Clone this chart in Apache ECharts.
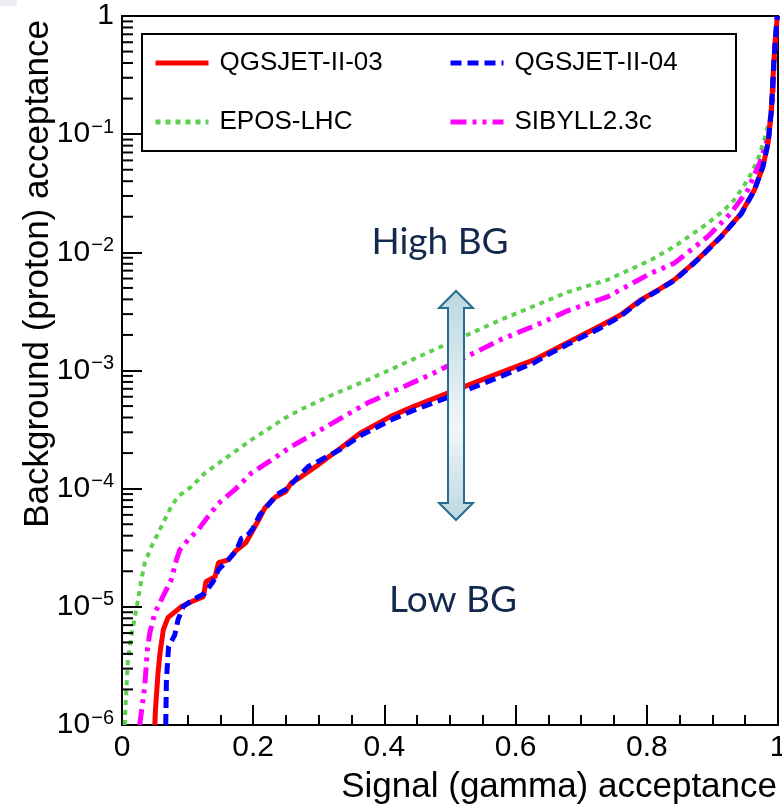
<!DOCTYPE html>
<html><head><meta charset="utf-8">
<script src="https://cdn.jsdelivr.net/npm/echarts@6/dist/echarts.min.js"></script>
<style>html,body{margin:0;padding:0;background:#fff;}#c{width:782px;height:805px;}</style>
</head><body><div id="c"></div>
<script>
// ---- data (signal acceptance, background acceptance) ----
const seriesNames = ['QGSJET-II-03', 'QGSJET-II-04', 'EPOS-LHC', 'SIBYLL2.3c'];
const qgsjet03 = [[0.050,1e-6],[0.051,1.35e-6],[0.055,2.8e-6],[0.058,4.1e-6],[0.063,6.4e-6],[0.070,8.1e-6],[0.090,1.0e-5],[0.105,1.1e-5],[0.124,1.22e-5],[0.128,1.63e-5],[0.142,1.8e-5],[0.147,2.36e-5],[0.162,2.5e-5],[0.174,3.0e-5],[0.189,3.5e-5],[0.197,4.2e-5],[0.208,5.4e-5],[0.218,6.9e-5],[0.234,8.5e-5],[0.249,9.4e-5],[0.258,1.12e-4],[0.273,1.26e-4],[0.299,1.59e-4],[0.333,2.2e-4],[0.363,2.95e-4],[0.409,4.07e-4],[0.444,4.95e-4],[0.516,7.1e-4],[0.577,9.6e-4],[0.628,1.23e-3],[0.653,1.45e-3],[0.679,1.72e-3],[0.730,2.4e-3],[0.760,2.95e-3],[0.791,3.96e-3],[0.820,4.9e-3],[0.842,5.85e-3],[0.862,7.3e-3],[0.882,9.2e-3],[0.913,1.36e-2],[0.944,2.14e-2],[0.964,3.37e-2],[0.977,5.3e-2],[0.985,8.5e-2],[0.990,0.16],[0.993,0.35],[0.996,0.65],[0.999,1]];
const qgsjet04 = [[0.0667,1e-6],[0.0677,2.4e-6],[0.071,4.6e-6],[0.0805,5.8e-6],[0.0855,7.8e-6],[0.093,1.0e-5],[0.108,1.15e-5],[0.126,1.3e-5],[0.139,1.64e-5],[0.147,2.06e-5],[0.162,2.5e-5],[0.1745,3.0e-5],[0.182,3.8e-5],[0.19,3.93e-5],[0.2,4.63e-5],[0.21,6.0e-5],[0.223,7.3e-5],[0.236,8.9e-5],[0.253,1.01e-4],[0.269,1.27e-4],[0.284,1.54e-4],[0.299,1.7e-4],[0.333,2.15e-4],[0.363,2.8e-4],[0.409,3.8e-4],[0.444,4.6e-4],[0.516,6.5e-4],[0.577,8.9e-4],[0.628,1.16e-3],[0.653,1.4e-3],[0.679,1.66e-3],[0.730,2.3e-3],[0.760,2.88e-3],[0.791,3.9e-3],[0.820,4.85e-3],[0.842,5.8e-3],[0.862,7.2e-3],[0.882,9.1e-3],[0.913,1.35e-2],[0.944,2.12e-2],[0.964,3.35e-2],[0.977,5.3e-2],[0.985,8.5e-2],[0.990,0.16],[0.993,0.35],[0.996,0.65],[0.999,1]];
const eposLhc = [[0.004,1e-6],[0.0066,2e-6],[0.009,3.56e-6],[0.014,5.6e-6],[0.019,7.8e-6],[0.0244,1.15e-5],[0.0295,1.69e-5],[0.0346,2.34e-5],[0.0448,3.24e-5],[0.055,4.2e-5],[0.065,5.45e-5],[0.0753,7.1e-5],[0.0855,8.6e-5],[0.106,1.04e-4],[0.126,1.35e-4],[0.147,1.64e-4],[0.172,2.06e-4],[0.197,2.59e-4],[0.223,3.2e-4],[0.248,3.95e-4],[0.275,4.75e-4],[0.320,6.2e-4],[0.374,8.3e-4],[0.475,1.49e-3],[0.577,2.68e-3],[0.638,3.7e-3],[0.679,4.6e-3],[0.740,5.85e-3],[0.806,8.6e-3],[0.842,1.12e-2],[0.893,1.76e-2],[0.918,2.28e-2],[0.933,2.77e-2],[0.954,4.1e-2],[0.969,6.05e-2],[0.979,8.9e-2],[0.988,0.14],[0.993,0.4],[0.997,0.8],[0.999,1]];
const sibyll23c = [[0.027,1e-6],[0.0346,2.1e-6],[0.0386,4.3e-6],[0.0423,6.0e-6],[0.05,8.85e-6],[0.06,1.15e-5],[0.0702,1.49e-5],[0.075,1.69e-5],[0.083,2.5e-5],[0.088,3.03e-5],[0.1008,3.69e-5],[0.116,4.48e-5],[0.131,5.8e-5],[0.147,7.5e-5],[0.172,9.8e-5],[0.197,1.35e-4],[0.228,1.75e-4],[0.258,2.27e-4],[0.294,2.95e-4],[0.374,5.3e-4],[0.475,9.5e-4],[0.577,1.82e-3],[0.638,2.51e-3],[0.679,3.2e-3],[0.740,4.2e-3],[0.806,6.65e-3],[0.842,8.1e-3],[0.893,1.36e-2],[0.928,2.14e-2],[0.954,3.37e-2],[0.974,6.05e-2],[0.986,0.10],[0.992,0.2],[0.995,0.5],[0.999,1]];
// ---- ticks ----
const yMinorMultipliers = [2,3,4,5,6,7,8,9];
const yDecades = [-6,-5,-4,-3,-2,-1];
const yMinorTicks = [];
yDecades.forEach(d => yMinorMultipliers.forEach(m => yMinorTicks.push(m * Math.pow(10, d))));

const FONT = 'Liberation Sans';
const chart = echarts.init(document.getElementById('c'), null, {renderer: 'canvas'});

const legendCommon = {
  orient: 'vertical', padding: 0, itemWidth: 53, itemHeight: 26, itemGap: 33,
  selectedMode: false,
  itemStyle: {color: 'rgba(0,0,0,0)', borderColor: 'rgba(0,0,0,0)', borderWidth: 0, opacity: 0},
  lineStyle: {width: 5},
  textStyle: {fontSize: 26, fontFamily: FONT, color: '#000', padding: [0, 0, 0, 6]}
};

chart.setOption({
  animation: false,
  backgroundColor: '#fff',
  grid: {left: 122, right: 4, top: 16, bottom: 80, show: true, borderColor: '#000', borderWidth: 2, outerBoundsMode: 'none', containLabel: false},
  legend: [
    Object.assign({data: [seriesNames[0], seriesNames[2]], left: 153, top: 50}, legendCommon),
    Object.assign({data: [seriesNames[1], seriesNames[3]], left: 448, top: 50}, legendCommon)
  ],
  xAxis: {
    type: 'value', min: 0, max: 1, interval: 0.2,
    axisLine: {show: true, lineStyle: {color: '#000', width: 2}},
    axisTick: {show: true, inside: true, length: 20, lineStyle: {color: '#000', width: 2}},
    minorTick: {show: true, splitNumber: 4, length: 10, lineStyle: {color: '#000', width: 2}},
    splitLine: {show: false}, minorSplitLine: {show: false},
    axisLabel: {fontSize: 30, fontFamily: FONT, color: '#000', margin: 8,
      formatter: v => String(Math.round(v * 10) / 10)}
  },
  yAxis: {
    type: 'log', logBase: 10, min: 1e-6, max: 1, splitNumber: 6,
    axisLine: {show: true, lineStyle: {color: '#000', width: 2}},
    axisTick: {show: true, inside: true, length: 20, lineStyle: {color: '#000', width: 2}},
    splitLine: {show: false},
    axisLabel: {
      fontSize: 30, fontFamily: FONT, color: '#000', margin: 8,
      formatter: v => { const e = Math.round(Math.log10(v)); return e === 0 ? '1' : '10{sup|\u2212' + (-e) + '}'; },
      rich: {sup: {fontSize: 20, fontFamily: FONT, color: '#000', verticalAlign: 'top', padding: [0, 0, 14, 1]}}
    }
  },
  graphic: [
    {type: 'rect', z: 0, shape: {x: 0, y: 0, width: 17, height: 6}, style: {fill: '#ececf3'}},
    {type: 'rect', z: 3, shape: {x: 142, y: 34, width: 594, height: 117}, style: {fill: '#fff', stroke: '#000', lineWidth: 2}},
    {type: 'text', z: 5, x: 38, y: 20, rotation: Math.PI / 2,
      style: {text: 'Background (proton) acceptance', font: '35px "Liberation Sans"', fill: '#000', textAlign: 'right', textVerticalAlign: 'middle'}},
    {type: 'text', z: 5, x: 777, y: 787,
      style: {text: 'Signal (gamma) acceptance', font: '35px "Liberation Sans"', fill: '#000', textAlign: 'right', textVerticalAlign: 'middle'}},
    {type: 'text', z: 5, x: 440, y: 242,
      style: {text: 'High BG', font: '37px Lato', fill: '#12294d', textAlign: 'center', textVerticalAlign: 'middle'}},
    {type: 'text', z: 5, x: 453, y: 600,
      style: {text: 'Low BG', font: '37px Lato', fill: '#12294d', textAlign: 'center', textVerticalAlign: 'middle'}},
    {type: 'polygon', z: 6,
      shape: {points: [[456,291],[473,308],[464,308],[464,503],[473,503],[456,520],[439,503],[448,503],[448,308],[439,308]]},
      style: {stroke: '#236f8c', lineWidth: 2,
        fill: new echarts.graphic.LinearGradient(0, 0, 0, 1, [
          {offset: 0, color: '#bcd6e0'}, {offset: 0.6, color: '#f0f6f8'}, {offset: 1, color: '#bcd6e0'}])}}
  ],
  series: [
    {name: seriesNames[2], type: 'line', data: eposLhc, symbol: 'none', z: 2,
      lineStyle: {color: '#5fcf50', width: 4, type: [5, 5]}, itemStyle: {color: '#5fcf50'}},
    {name: seriesNames[3], type: 'line', data: sibyll23c, symbol: 'none', z: 2,
      lineStyle: {color: '#ff00ff', width: 5, type: [16, 6, 4, 6, 4, 6]}, itemStyle: {color: '#ff00ff'}},
    {name: seriesNames[0], type: 'line', data: qgsjet03, symbol: 'none', z: 2,
      lineStyle: {color: '#ff0000', width: 5, type: 'solid'}, itemStyle: {color: '#ff0000'}},
    {name: seriesNames[1], type: 'line', data: qgsjet04, symbol: 'none', z: 2,
      lineStyle: {color: '#0000ff', width: 5, type: [11, 6]}, itemStyle: {color: '#0000ff'}},
    {name: 'yMinor', type: 'custom', silent: true, z: 3,
      data: yMinorTicks.map(v => [0, v]), encode: {x: 0, y: 1},
      renderItem: (params, api) => {
        const p = api.coord([0, api.value(1)]);
        return {type: 'line', shape: {x1: p[0], y1: p[1], x2: p[0] + 11, y2: p[1]}, style: {stroke: '#000', lineWidth: 2}};
      }}
  ]
});
</script>
</body></html>
